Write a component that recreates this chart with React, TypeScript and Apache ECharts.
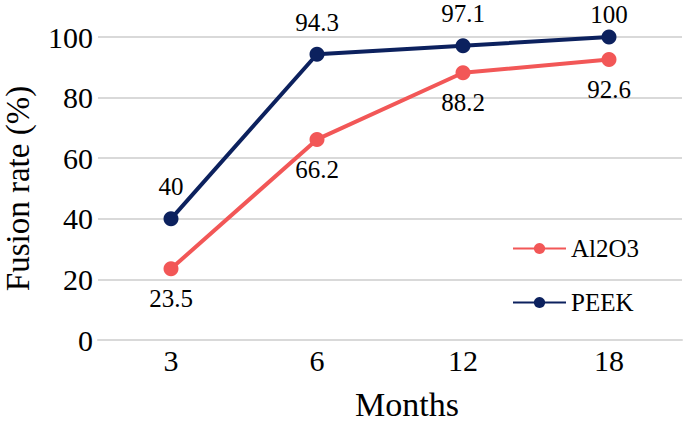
import React, { useEffect, useRef } from "react";
import * as echarts from "echarts";

const months = ["3", "6", "12", "18"];
const al2o3 = [23.5, 66.2, 88.2, 92.6];
const peek = [40, 94.3, 97.1, 100];
const yTicks = { min: 0, max: 100, interval: 20 };

const FONT = "Liberation Serif";

export default function App() {
  const ref = useRef<HTMLDivElement>(null);
  useEffect(() => {
    if (!ref.current) return;
    const chart = echarts.init(ref.current, undefined, { renderer: "svg" });
    const peekData = peek.map((v) =>
      v >= 100 ? { value: v, label: { distance: 3 } } : v
    );
    chart.setOption({
      animation: false,
      backgroundColor: "#ffffff",
      grid: {
        left: 98,
        right: 3,
        top: 37,
        bottom: 88,
        containLabel: false,
        outerBoundsMode: "none",
      },
      legend: {
        orient: "vertical",
        left: 507,
        top: 231,
        padding: 5,
        itemGap: 29,
        itemWidth: 53,
        itemHeight: 14,
        textStyle: { fontFamily: FONT, fontSize: 25, color: "#000" },
        data: ["Al2O3", "PEEK"],
      },
      xAxis: {
        type: "category",
        data: months,
        boundaryGap: true,
        name: "Months",
        nameLocation: "middle",
        nameGap: 47,
        nameTextStyle: {
          fontFamily: FONT,
          fontSize: 34,
          color: "#000",
          padding: [0, 0, 0, 34],
        },
        axisLine: { show: true, lineStyle: { color: "#d9d9d9", width: 2 } },
        axisTick: { show: false },
        axisLabel: { fontFamily: FONT, fontSize: 30, color: "#000", margin: 5 },
      },
      yAxis: {
        type: "value",
        min: yTicks.min,
        max: yTicks.max,
        interval: yTicks.interval,
        name: "Fusion rate (%)",
        nameLocation: "middle",
        nameGap: 64,
        nameTextStyle: { fontFamily: FONT, fontSize: 33, color: "#000" },
        axisLine: { show: false },
        axisTick: { show: false },
        axisLabel: { fontFamily: FONT, fontSize: 30, color: "#000", margin: 5 },
        splitLine: { lineStyle: { color: "#d9d9d9", width: 2 } },
      },
      series: [
        {
          name: "Al2O3",
          type: "line",
          data: al2o3,
          symbol: "circle",
          symbolSize: 15,
          color: "#f25757",
          lineStyle: { width: 4, color: "#f25757" },
          itemStyle: { color: "#f25757" },
          label: {
            show: true,
            position: "bottom",
            distance: 10,
            fontFamily: FONT,
            fontSize: 25,
            color: "#000",
          },
          z: 2,
        },
        {
          name: "PEEK",
          type: "line",
          data: peekData,
          symbol: "circle",
          symbolSize: 15,
          color: "#0c215e",
          lineStyle: { width: 4, color: "#0c215e" },
          itemStyle: { color: "#0c215e" },
          label: {
            show: true,
            position: "top",
            distance: 12,
            fontFamily: FONT,
            fontSize: 25,
            color: "#000",
          },
          z: 3,
        },
      ],
    });
    return () => chart.dispose();
  }, []);
  return (
    <div
      ref={ref}
      style={{ position: "fixed", left: 0, top: 0, width: 685, height: 428 }}
    />
  );
}
